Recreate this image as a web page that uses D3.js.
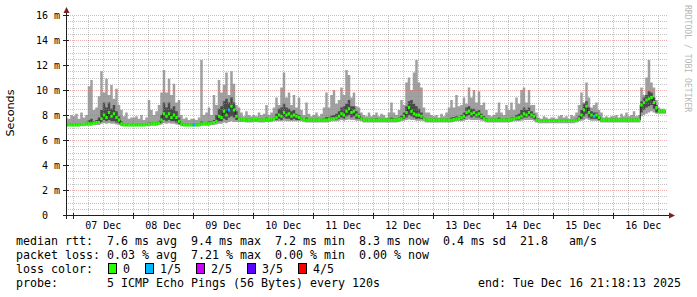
<!DOCTYPE html>
<html>
<head>
<meta charset="utf-8">
<script src="https://cdn.jsdelivr.net/npm/d3@7"></script>
<style>
body{margin:0;background:#fff;}
svg{display:block;}
text{font-family:"DejaVu Sans Mono",monospace;fill:#000;}
.pre{white-space:pre;}
</style>
</head>
<body>
<div id="chart"></div>
<script>
// hourly samples, first one at Dec 6 21:00, one row per day
var firstHour = Date.UTC(2025, 11, 6, 21);
var endTime = new Date(Date.UTC(2025, 11, 16, 21, 18, 13));

var median = [
	7.2,7.2,7.2,
	7.2,7.2,7.2,7.25,7.25,7.3,7.3,7.3,7.35,7.4,7.4,7.7,8.0,7.8,8.2,7.9,8.1,7.8,7.6,7.3,7.2,7.2,7.2,7.2,
	7.2,7.2,7.2,7.2,7.2,7.25,7.25,7.3,7.3,7.3,7.35,7.6,8.1,7.9,8.1,7.8,8.0,7.8,7.5,7.3,7.2,7.2,7.2,7.2,
	7.2,7.2,7.2,7.3,7.3,7.3,7.3,7.35,7.4,7.5,7.9,7.8,8.3,8.0,8.4,8.7,8.4,7.9,7.7,7.65,7.65,7.6,7.6,7.6,
	7.65,7.65,7.6,7.6,7.6,7.65,7.65,7.65,7.7,7.8,8.0,7.9,8.2,8.0,8.1,7.9,8.0,7.9,7.8,7.7,7.65,7.6,7.6,7.6,
	7.6,7.6,7.6,7.6,7.6,7.6,7.65,7.7,7.7,7.75,7.9,8.1,8.0,8.3,8.5,8.2,8.3,8.0,7.9,7.7,7.6,7.6,7.6,7.6,
	7.6,7.6,7.6,7.6,7.6,7.6,7.6,7.6,7.6,7.6,7.65,7.7,7.9,8.2,8.6,8.3,8.1,8.0,8.0,7.9,7.7,7.6,7.6,7.6,
	7.6,7.6,7.6,7.6,7.6,7.6,7.6,7.6,7.65,7.7,7.7,7.8,7.9,8.2,8.3,8.1,8.2,8.0,8.1,7.9,7.7,7.6,7.6,7.6,
	7.6,7.6,7.6,7.6,7.6,7.6,7.6,7.65,7.7,7.75,7.8,7.9,8.1,8.0,8.2,8.0,7.9,7.6,7.55,7.55,7.55,7.55,7.55,7.55,
	7.55,7.55,7.55,7.55,7.55,7.55,7.55,7.55,7.55,7.55,7.7,8.0,8.4,8.7,8.2,8.0,7.9,8.0,7.8,7.6,7.6,7.6,7.6,7.6,
	7.6,7.6,7.6,7.6,7.6,7.6,7.6,7.6,7.6,7.6,7.6,8.8,9.0,9.2,9.3,9.4,9.0,8.6,8.3,8.3,8.3,8.3
];
var ping5 = [
	7.8,7.7,8.0,
	7.9,8.1,7.7,8.2,7.8,8.0,10.3,10.8,8.4,8.6,9.5,11.5,9.8,10.9,9.6,10.4,9.3,10.1,8.8,8.4,7.9,8.2,7.7,7.8,
	7.8,7.9,7.7,8.0,7.6,7.8,9.2,8.4,8.0,8.3,8.8,9.8,11.6,9.8,10.9,9.6,10.5,9.0,9.2,8.0,7.7,7.8,7.6,7.7,
	7.7,7.6,7.8,12.4,8.0,8.2,8.6,8.0,9.6,8.8,10.8,9.8,10.4,11.4,9.6,11.5,10.5,8.8,8.6,8.2,7.9,8.3,8.0,7.9,
	8.0,7.9,8.2,8.0,8.1,8.8,8.0,8.2,8.6,9.4,8.8,10.2,11.4,9.4,9.8,8.8,9.6,8.6,9.4,8.4,8.0,9.0,8.1,7.9,
	8.0,8.2,7.9,8.1,8.6,9.8,8.6,9.6,10.0,8.9,9.2,10.2,9.6,11.6,11.2,9.4,9.8,8.7,8.6,8.2,8.0,7.9,8.2,7.9,
	8.0,8.2,7.9,8.1,8.0,7.8,8.2,9.0,8.2,8.0,8.4,9.2,8.8,10.6,11.0,10.0,11.4,12.4,10.6,10.2,8.6,8.2,8.2,8.0,
	7.9,8.0,7.8,8.1,7.9,8.2,8.6,9.2,8.6,9.6,8.7,8.8,9.4,8.9,10.2,9.4,10.0,9.0,9.9,8.8,9.0,8.4,8.0,7.9,
	8.0,8.2,9.0,8.2,8.0,8.8,8.4,9.0,8.4,9.4,8.9,10.0,10.2,9.0,10.0,8.8,8.8,8.2,7.8,7.7,7.9,7.8,7.7,7.8,
	7.8,7.7,7.9,8.0,7.8,7.9,7.7,8.0,7.9,8.2,8.8,9.8,9.0,10.6,9.4,8.6,8.8,9.0,8.4,8.2,7.8,7.9,7.8,7.9,
	7.9,8.0,7.8,8.1,7.9,8.2,7.9,8.0,8.3,7.9,8.0,10.2,9.6,11.0,12.4,10.6,10.2,9.2,8.6,8.5,8.5,8.4
];
var ping4 = [
	7.3,7.3,7.3,
	7.3,7.3,7.3,7.35,7.35,7.4,7.6,7.7,7.5,7.6,7.8,8.4,9.0,8.6,9.0,8.5,8.8,8.3,7.9,7.5,7.3,7.3,7.3,7.3,
	7.3,7.3,7.3,7.3,7.3,7.35,7.4,7.4,7.4,7.4,7.5,8.0,9.0,8.6,9.0,8.5,8.7,8.3,7.8,7.4,7.3,7.3,7.3,7.3,
	7.3,7.3,7.3,7.5,7.4,7.4,7.5,7.5,7.6,8.0,8.5,8.7,9.1,9.3,9.0,9.4,9.0,8.3,7.85,7.75,7.75,7.7,7.7,7.7,
	7.75,7.75,7.7,7.7,7.7,7.8,7.75,7.75,7.85,8.1,8.5,8.6,8.9,8.6,8.5,8.3,8.4,8.1,8.0,7.85,7.75,7.8,7.7,7.7,
	7.7,7.7,7.7,7.7,7.75,7.85,7.8,7.95,8.0,8.1,8.3,8.6,8.7,8.9,9.2,8.7,8.7,8.3,8.1,7.85,7.7,7.7,7.7,7.7,
	7.7,7.75,7.7,7.7,7.7,7.7,7.75,7.8,7.75,7.7,7.8,7.95,8.2,8.7,9.1,9.2,8.9,8.7,8.5,8.2,7.85,7.7,7.7,7.7,
	7.7,7.7,7.7,7.7,7.7,7.7,7.75,7.8,7.85,7.9,7.85,8.0,8.2,8.6,8.7,8.5,8.5,8.3,8.4,8.1,7.9,7.75,7.7,7.7,
	7.7,7.7,7.8,7.7,7.7,7.75,7.7,7.8,7.85,8.0,8.1,8.4,8.6,8.4,8.6,8.3,8.1,7.75,7.65,7.65,7.65,7.65,7.65,7.65,
	7.65,7.65,7.65,7.65,7.65,7.65,7.65,7.65,7.65,7.7,7.9,8.4,8.9,9.1,8.6,8.3,8.2,8.2,7.95,7.7,7.7,7.7,7.7,7.7,
	7.7,7.7,7.7,7.7,7.7,7.7,7.7,7.7,7.7,7.7,7.7,9.1,9.4,9.6,9.9,9.8,9.4,8.8,8.4,8.4,8.4,8.4
];
var ping2 = [
	7.15,7.15,7.15,
	7.15,7.15,7.15,7.2,7.2,7.25,7.25,7.25,7.3,7.3,7.3,7.45,7.6,7.5,7.6,7.5,7.5,7.4,7.35,7.2,7.15,7.15,7.15,7.15,
	7.15,7.15,7.15,7.15,7.15,7.2,7.2,7.25,7.25,7.25,7.3,7.4,7.6,7.5,7.6,7.5,7.5,7.4,7.3,7.2,7.15,7.15,7.15,7.15,
	7.15,7.15,7.15,7.25,7.25,7.25,7.25,7.3,7.3,7.4,7.5,7.5,7.7,7.6,7.8,7.9,7.8,7.6,7.6,7.55,7.55,7.5,7.5,7.5,
	7.55,7.55,7.5,7.5,7.5,7.55,7.55,7.55,7.6,7.6,7.7,7.6,7.8,7.7,7.7,7.6,7.7,7.6,7.6,7.6,7.55,7.5,7.5,7.5,
	7.5,7.5,7.5,7.5,7.5,7.5,7.55,7.6,7.6,7.6,7.7,7.8,7.7,7.9,8.0,7.8,7.9,7.7,7.7,7.6,7.5,7.5,7.5,7.5,
	7.5,7.5,7.5,7.5,7.5,7.5,7.5,7.5,7.5,7.5,7.55,7.6,7.7,7.8,8.0,7.9,7.8,7.7,7.7,7.7,7.6,7.5,7.5,7.5,
	7.5,7.5,7.5,7.5,7.5,7.5,7.5,7.5,7.55,7.6,7.6,7.65,7.7,7.9,8.0,7.8,7.9,7.8,7.8,7.7,7.6,7.5,7.5,7.5,
	7.5,7.5,7.5,7.5,7.5,7.5,7.5,7.55,7.6,7.6,7.65,7.7,7.8,7.8,7.9,7.8,7.7,7.5,7.45,7.45,7.45,7.45,7.45,7.45,
	7.45,7.45,7.45,7.45,7.45,7.45,7.45,7.45,7.45,7.5,7.6,7.7,7.9,8.1,7.8,7.7,7.7,7.7,7.6,7.5,7.5,7.5,7.5,7.5,
	7.5,7.5,7.5,7.5,7.5,7.5,7.5,7.5,7.5,7.5,7.5,8.2,8.4,8.6,8.7,8.8,8.5,8.2,8.2,8.2,8.2,8.2
];
var ping1 = [
	7.1,7.1,7.1,
	7.1,7.1,7.1,7.1,7.1,7.15,7.15,7.15,7.2,7.2,7.2,7.3,7.35,7.3,7.35,7.3,7.3,7.25,7.2,7.1,7.1,7.1,7.1,7.1,
	7.1,7.1,7.1,7.1,7.1,7.1,7.1,7.15,7.15,7.15,7.2,7.25,7.35,7.3,7.35,7.3,7.3,7.25,7.2,7.1,7.1,7.1,7.1,7.1,
	7.1,7.1,7.1,7.15,7.15,7.15,7.15,7.2,7.2,7.25,7.3,7.3,7.4,7.35,7.45,7.5,7.45,7.45,7.45,7.45,7.45,7.4,7.4,7.4,
	7.45,7.45,7.4,7.4,7.4,7.45,7.45,7.45,7.5,7.5,7.5,7.5,7.55,7.5,7.5,7.5,7.5,7.5,7.5,7.5,7.45,7.4,7.4,7.4,
	7.4,7.4,7.4,7.4,7.4,7.4,7.45,7.5,7.5,7.5,7.55,7.6,7.55,7.6,7.65,7.6,7.6,7.55,7.55,7.5,7.4,7.4,7.4,7.4,
	7.4,7.4,7.4,7.4,7.4,7.4,7.4,7.4,7.4,7.4,7.45,7.5,7.55,7.6,7.65,7.6,7.6,7.55,7.55,7.55,7.5,7.4,7.4,7.4,
	7.4,7.4,7.4,7.4,7.4,7.4,7.4,7.4,7.45,7.5,7.5,7.5,7.55,7.6,7.65,7.6,7.6,7.6,7.6,7.55,7.5,7.4,7.4,7.4,
	7.4,7.4,7.4,7.4,7.4,7.4,7.4,7.45,7.5,7.5,7.5,7.55,7.6,7.6,7.6,7.6,7.55,7.4,7.35,7.35,7.35,7.35,7.35,7.35,
	7.35,7.35,7.35,7.35,7.35,7.35,7.35,7.35,7.35,7.4,7.5,7.55,7.6,7.7,7.6,7.55,7.55,7.55,7.5,7.4,7.4,7.4,7.4,7.4,
	7.4,7.4,7.4,7.4,7.4,7.4,7.4,7.4,7.4,7.4,7.4,7.9,8.0,8.1,8.2,8.3,8.2,8.1,8.1,8.1,8.1,8.1
];
// hours (index into the arrays above) where 1 of 5 pings got lost
var lossHours = [51, 65, 211];
var lossLevel = [1, 1, 1];

var dayLabels = ["07 Dec","08 Dec","09 Dec","10 Dec","11 Dec","12 Dec","13 Dec","14 Dec","15 Dec","16 Dec"];
var yTicks = [0, 2, 4, 6, 8, 10, 12, 14, 16];
var yTickLabels = ["0  ", "2 m", "4 m", "6 m", "8 m", "10 m", "12 m", "14 m", "16 m"];
var lossLabels = ["0", "1/5", "2/5", "3/5", "4/5"];
var lossColors = ["#26ff00", "#00b8ff", "#cc00ff", "#5e00ff", "#ff0000"];
var statLines = [
	"median rtt:  7.6 ms avg  9.4 ms max  7.2 ms min  8.3 ms now  0.4 ms sd  21.8   am/s",
	"packet loss: 0.03 % avg  7.21 % max  0.00 % min  0.00 % now"
];
var probeLine = "probe:       5 ICMP Echo Pings (56 Bytes) every 120s";
var endLine = "end: Tue Dec 16 21:18:13 2025";

var width = 697, height = 297;
var svg = d3.select("#chart").append("svg")
	.attr("width", width)
	.attr("height", height);

var startTime = new Date(endTime.getTime() - 10 * 864e5);
var x = d3.scaleUtc().domain([startTime, endTime]).range([66, 666]);
var y = d3.scaleLinear().domain([0, 16]).range([215, 15]);
var crisp = function(v){ return Math.round(v) + 0.5; };

var samples = median.map(function(m, i){
	return {
		t: new Date(firstHour + i * 36e5),
		t1: new Date(firstHour + (i + 1) * 36e5),
		med: m, p1: ping1[i], p2: ping2[i], p4: ping4[i], p5: ping5[i], loss: 0
	};
});
lossHours.forEach(function(h, k){ samples[h].loss = lossLevel[k]; });
// closing point so the last step gets its width
var last = samples[samples.length - 1];
var steps = samples.concat([Object.assign({}, last, {t: last.t1})]);

svg.append("clipPath").attr("id", "plot")
	.append("rect").attr("x", 66).attr("y", 0).attr("width", 600).attr("height", 215);

var plot = svg.append("g").attr("clip-path", "url(#plot)");

// smoke
plot.append("path")
	.datum(steps)
	.attr("fill", "#a0a0a0")
	.attr("d", d3.area().curve(d3.curveStepAfter)
		.x(function(d){ return x(d.t); })
		.y0(function(d){ return y(d.p1); })
		.y1(function(d){ return y(d.p5); }));

plot.append("path")
	.datum(steps)
	.attr("fill", "#4a4a4a")
	.attr("d", d3.area().curve(d3.curveStepAfter)
		.x(function(d){ return x(d.t); })
		.y0(function(d){ return y(d.p2); })
		.y1(function(d){ return y(d.p4); }));

// grid
var grid = svg.append("g")
	.attr("shape-rendering", "crispEdges")
	.attr("stroke-dasharray", "1,1");

var minorY = y.ticks(32).filter(function(v){ return v % 2 !== 0; });
var majorX = d3.utcDay.range(startTime, endTime);
var minorX = d3.utcHour.every(6).range(startTime, endTime)
	.filter(function(d){ return d.getUTCHours() !== 0; });
var minorCol = "rgba(143,143,143,0.55)", majorCol = "rgba(222,79,79,0.45)";

grid.selectAll("line.minor-y").data(minorY).enter().append("line")
	.attr("class", "minor-y")
	.attr("x1", 66).attr("x2", 668)
	.attr("y1", function(d){ return crisp(y(d)); })
	.attr("y2", function(d){ return crisp(y(d)); })
	.attr("stroke", minorCol);

grid.selectAll("line.minor-x").data(minorX).enter().append("line")
	.attr("class", "minor-x")
	.attr("x1", function(d){ return crisp(x(d)); })
	.attr("x2", function(d){ return crisp(x(d)); })
	.attr("y1", 215).attr("y2", 15)
	.attr("stroke", minorCol);

grid.selectAll("line.major-y").data(yTicks.slice(1)).enter().append("line")
	.attr("class", "major-y")
	.attr("x1", 66).attr("x2", 668)
	.attr("y1", function(d){ return crisp(y(d)); })
	.attr("y2", function(d){ return crisp(y(d)); })
	.attr("stroke", majorCol);

grid.selectAll("line.major-x").data(majorX).enter().append("line")
	.attr("class", "major-x")
	.attr("x1", function(d){ return crisp(x(d)); })
	.attr("x2", function(d){ return crisp(x(d)); })
	.attr("y1", 215).attr("y2", 15)
	.attr("stroke", majorCol);

// median: dark connecting line, then a loss coloured band per sample
var plot2 = svg.append("g").attr("clip-path", "url(#plot)");
plot2.append("path")
	.datum(steps)
	.attr("fill", "none")
	.attr("stroke", "#202020")
	.attr("stroke-width", 1)
	.attr("d", d3.line().curve(d3.curveStepAfter)
		.x(function(d){ return x(d.t); })
		.y(function(d){ return y(d.med); }));

plot2.selectAll("rect.med").data(samples).enter().append("rect")
	.attr("class", "med")
	.attr("x", function(d){ return x(d.t); })
	.attr("width", function(d){ return x(d.t1) - x(d.t); })
	.attr("y", function(d){ return y(d.med) - 1.5; })
	.attr("height", 3)
	.attr("fill", function(d){ return lossColors[d.loss]; });

// axes
var axisCol = "#1f1f1f", arrowCol = "#801f1f";
var axes = svg.append("g").attr("shape-rendering", "crispEdges").attr("stroke", axisCol);
axes.append("line").attr("x1", 63).attr("x2", 670).attr("y1", 215.5).attr("y2", 215.5);
axes.append("line").attr("x1", 66.5).attr("x2", 66.5).attr("y1", 219).attr("y2", 12);
axes.selectAll("line.tx").data(majorX).enter().append("line")
	.attr("class", "tx")
	.attr("x1", function(d){ return crisp(x(d)); })
	.attr("x2", function(d){ return crisp(x(d)); })
	.attr("y1", 213).attr("y2", 219);
axes.selectAll("line.ty").data(yTicks).enter().append("line")
	.attr("class", "ty")
	.attr("x1", 63).attr("x2", 69)
	.attr("y1", function(d){ return crisp(y(d)); })
	.attr("y2", function(d){ return crisp(y(d)); });

svg.append("path").attr("fill", arrowCol).attr("d", "M66.5,7L63.5,13L69.5,13Z");
svg.append("path").attr("fill", arrowCol).attr("d", "M675,215.5L669,212.5L669,218.5Z");

var xAxis = svg.append("g")
	.attr("transform", "translate(0,215)")
	.call(d3.axisBottom(x)
		.tickValues(majorX.map(function(d){ return d3.utcHour.offset(d, 12); }))
		.tickFormat(function(d, i){ return dayLabels[i]; })
		.tickSize(0)
		.tickPadding(6.5));
xAxis.select(".domain").remove();
xAxis.selectAll("text")
	.attr("font-family", "DejaVu Sans Mono")
	.attr("font-size", 10)
	.attr("fill", "#000");

var yAxis = svg.append("g")
	.attr("transform", "translate(66,0)")
	.call(d3.axisLeft(y)
		.tickValues(yTicks)
		.tickFormat(function(d, i){ return yTickLabels[i]; })
		.tickSize(0)
		.tickPadding(6));
yAxis.select(".domain").remove();
yAxis.selectAll("text")
	.attr("class", "pre")
	.attr("font-family", "DejaVu Sans Mono")
	.attr("font-size", 10)
	.attr("fill", "#000");

svg.append("text")
	.attr("transform", "translate(14,113) rotate(-90)")
	.attr("text-anchor", "middle")
	.style("font-family", "'DejaVu Sans', sans-serif")
	.attr("font-size", 11.2)
	.text("Seconds");

svg.append("text")
	.attr("transform", "translate(685,5) rotate(90)")
	.attr("font-size", 8.1)
	.style("fill", "#b8b8b8")
	.text("RRDTOOL / TOBI OETIKER");

// legend
var legendSize = 11.63, charW = 7;
var legend = svg.append("g").attr("font-size", legendSize);
legend.selectAll("text.stat").data(statLines).enter().append("text")
	.attr("class", "stat pre")
	.attr("x", 16)
	.attr("y", function(d, i){ return 245 + i * 14; })
	.text(function(d){ return d; });

legend.append("text").attr("class", "pre").attr("x", 16).attr("y", 273).text("loss color:");

var swatchX = [];
lossLabels.reduce(function(pos, lbl){
	swatchX.push(pos);
	return pos + 14 + lbl.length * charW + 16;
}, 108);

var sw = legend.selectAll("g.sw").data(lossLabels).enter().append("g")
	.attr("class", "sw")
	.attr("transform", function(d, i){ return "translate(" + swatchX[i] + ",0)"; });
sw.append("rect")
	.attr("x", 0.5).attr("y", 263.5)
	.attr("width", 8).attr("height", 10)
	.attr("shape-rendering", "crispEdges")
	.attr("stroke", "#000")
	.attr("fill", function(d, i){ return lossColors[i]; });
sw.append("text")
	.attr("x", 15)
	.attr("y", 273)
	.text(function(d){ return d; });

legend.append("text").attr("class", "pre").attr("x", 16).attr("y", 287).text(probeLine);
legend.append("text").attr("class", "pre").attr("x", 681).attr("y", 287)
	.attr("text-anchor", "end").text(endLine);
</script>
</body>
</html>
